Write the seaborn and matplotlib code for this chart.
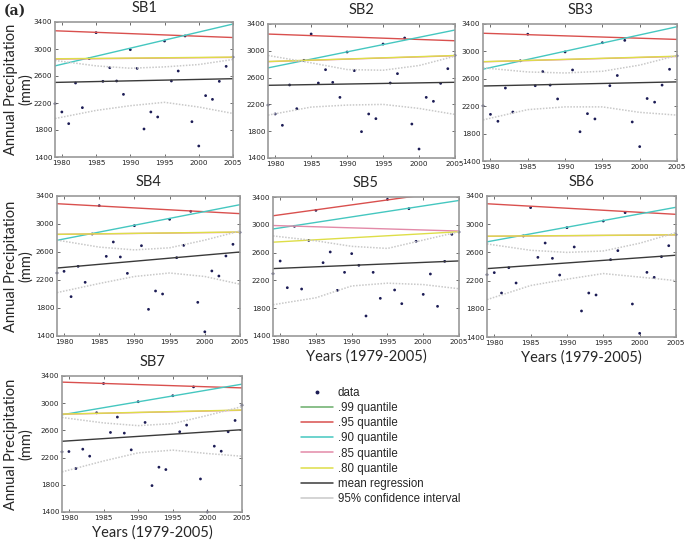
import pandas as pd
import seaborn as sns
import matplotlib.pyplot as plt
from matplotlib.lines import Line2D

YEARS = list(range(1979, 2006))
PANELS = ["SB1", "SB2", "SB3", "SB4", "SB5", "SB6", "SB7"]

SB1_PRECIP = [2190, 2067, 1894, 2496, 2131, 2857, 3242, 2521, 2723, 2526, 2328, 2990, 2713, 1815,
              2067, 1993, 3118, 2526, 2674, 3193, 1923, 1563, 2309, 2254, 2521, 2743, 2880]
SB2_PRECIP = [2190, 2057, 1888, 2490, 2136, 2858, 3251, 2519, 2718, 2529, 2305, 2982, 2704, 1793,
              2057, 1987, 3101, 2519, 2659, 3191, 1907, 1534, 2305, 2246, 2514, 2733, 2932]
SB3_PRECIP = [2206, 2081, 1980, 2465, 2115, 2863, 3251, 2499, 2705, 2508, 2306, 2992, 2729, 1827,
              2091, 2014, 3127, 2499, 2648, 3161, 1970, 1610, 2312, 2259, 2508, 2739, 2935]
SB4_PRECIP = [2300, 2324, 1962, 2395, 2167, 2857, 3262, 2538, 2743, 2529, 2295, 2976, 2690, 1781,
              2043, 2000, 3067, 2519, 2695, 3181, 1881, 1460, 2329, 2257, 2543, 2710, 2880]
SB5_PRECIP = [2297, 2479, 2095, 2978, 2076, 2776, 3208, 2455, 2609, 2057, 2316, 2585, 2417, 1688,
              2316, 1942, 3366, 2062, 1865, 3232, 2762, 1999, 2292, 1827, 2474, 2863, 2896]
SB6_PRECIP = [2284, 2313, 2024, 2383, 2166, 2833, 3235, 2530, 2733, 2516, 2279, 2951, 2677, 1769,
              2024, 1996, 3045, 2497, 2625, 3164, 1868, 1452, 2317, 2246, 2539, 2695, 2852]
SB7_PRECIP = [2285, 2289, 2039, 2324, 2221, 2859, 3290, 2570, 2796, 2560, 2314, 3022, 2717, 1788,
              2059, 2024, 3110, 2580, 2678, 3240, 1886, 1400, 2368, 2294, 2580, 2746, 2970]
PRECIP = [SB1_PRECIP, SB2_PRECIP, SB3_PRECIP, SB4_PRECIP, SB5_PRECIP, SB6_PRECIP, SB7_PRECIP]

# regression lines: value at 1979 and at 2005
LINE_YEARS = [1979, 2005]
Q99_START = [3460, 3450, 3460, 3480, 3450, 3470, 3440]
Q99_END = [3600, 3560, 3600, 3560, 3650, 3540, 3560]
Q95_START = [3270, 3250, 3265, 3290, 3130, 3290, 3310]
Q95_END = [3170, 3150, 3175, 3148, 3500, 3140, 3225]
Q90_START = [2750, 2745, 2740, 2767, 2940, 2750, 2830]
Q90_END = [3370, 3310, 3360, 3276, 3350, 3240, 3280]
Q85_START = [2850, 2838, 2848, 2852, 2990, 2828, 2838]
Q85_END = [2876, 2926, 2926, 2882, 2910, 2848, 2896]
Q80_START = [2855, 2840, 2850, 2852, 2750, 2830, 2840]
Q80_END = [2880, 2930, 2930, 2886, 2900, 2850, 2900]
MEAN_START = [2505, 2485, 2495, 2371, 2370, 2370, 2440]
MEAN_END = [2560, 2530, 2555, 2600, 2480, 2560, 2610]

CI_YEARS = [1979, 1985, 1990, 1995, 2000, 2005]
CI_UPPER = [[2830, 2750, 2715, 2735, 2770, 2845],
            [2930, 2820, 2720, 2710, 2780, 2920],
            [2760, 2700, 2685, 2710, 2800, 2940],
            [2770, 2670, 2630, 2660, 2770, 2900],
            [2840, 2770, 2690, 2660, 2780, 2900],
            [2720, 2630, 2600, 2620, 2730, 2880],
            [2790, 2710, 2670, 2700, 2820, 2950]]
CI_LOWER = [[1970, 2090, 2160, 2210, 2140, 2045],
            [2040, 2160, 2190, 2200, 2140, 2050],
            [2000, 2150, 2190, 2190, 2110, 2070],
            [2020, 2150, 2250, 2300, 2250, 2140],
            [1850, 1950, 2120, 2160, 2140, 2080],
            [1930, 2130, 2220, 2300, 2250, 2200],
            [1990, 2150, 2270, 2310, 2260, 2220]]

X_TICKS = [1980, 1985, 1990, 1995, 2000, 2005]
Y_TICKS = [1400, 1800, 2200, 2600, 3000, 3400]

COLORS = {
    "data": "#1c1c55",
    ".99 quantile": "#6aae6a",
    ".95 quantile": "#d9504e",
    ".90 quantile": "#45c7c0",
    ".85 quantile": "#e38aa8",
    ".80 quantile": "#dede48",
    "mean regression": "#3a3a3a",
    "95% confidence interval": "#c9c9c9",
}

# axes boxes in pixels: left, top, right, bottom
BOXES = [(55, 22, 233, 157), (268, 24, 455, 158), (483, 24, 677, 161),
         (57, 196, 240, 336), (273, 197, 459, 336), (487, 196, 676, 337),
         (62, 376, 242, 512)]
W, H = 685, 540
LABEL_FONT = ["Lato", "DejaVu Sans"]

sns.set_style("ticks")
plt.rcParams["font.family"] = ["DejaVu Sans"]

fig = plt.figure(figsize=(W / 100, H / 100), dpi=100)


def draw_panel(i):
    l, t, r, b = BOXES[i]
    ax = fig.add_axes([l / W, 1 - b / H, (r - l) / W, (b - t) / H])

    quant = [(".99 quantile", Q99_START, Q99_END), (".95 quantile", Q95_START, Q95_END),
             (".90 quantile", Q90_START, Q90_END), (".85 quantile", Q85_START, Q85_END),
             (".80 quantile", Q80_START, Q80_END)]
    for name, s, e in quant:
        sns.lineplot(x=LINE_YEARS, y=[s[i], e[i]], ax=ax, color=COLORS[name], lw=1.0)
    sns.lineplot(x=LINE_YEARS, y=[MEAN_START[i], MEAN_END[i]], ax=ax,
                 color=COLORS["mean regression"], lw=1.0)
    for ci in (CI_UPPER, CI_LOWER):
        sns.lineplot(x=CI_YEARS, y=ci[i], ax=ax, color=COLORS["95% confidence interval"],
                     lw=1.1, linestyle=(0, (1, 1)))
    df = pd.DataFrame({"year": YEARS, "precip": PRECIP[i]})
    sns.scatterplot(data=df, x="year", y="precip", ax=ax, color=COLORS["data"],
                    s=4, edgecolor="none", clip_on=False)

    ax.set_xlim(1979, 2005)
    ax.set_ylim(1400, 3400)
    ax.set_xticks(X_TICKS)
    ax.set_yticks(Y_TICKS)
    ax.tick_params(direction="in", length=2, width=0.6, labelsize=5.2, pad=2,
                   top=True, right=True, colors="#555555", labelcolor="#222222")
    for sp in ax.spines.values():
        sp.set_color("#999999")
        sp.set_linewidth(1.2)
    ax.set_title(PANELS[i], fontsize=10.5, pad=7, family=LABEL_FONT)
    ax.set_xlabel("")
    ax.set_ylabel("")
    if i in (0, 3, 6):
        ax.set_ylabel("Annual Precipitation\n(mm)", fontsize=10.5, linespacing=1.1,
                      family=LABEL_FONT)
        ax.yaxis.set_label_coords((33 - l) / (r - l), 0.5)
    if i in (4, 5, 6):
        ax.set_xlabel("Years (1979-2005)", fontsize=10.5, labelpad=3, family=LABEL_FONT)
    return ax


for i in range(len(PANELS)):
    draw_panel(i)

handles = [Line2D([], [], marker="o", ms=1.8, ls="none", color=COLORS["data"])]
labels = ["data"]
for name in [".99 quantile", ".95 quantile", ".90 quantile", ".85 quantile", ".80 quantile",
             "mean regression", "95% confidence interval"]:
    handles.append(Line2D([], [], color=COLORS[name], lw=1.1))
    labels.append(name)
fig.legend(handles, labels, loc="upper left", bbox_to_anchor=(296 / W, 1 - 382 / H),
           frameon=False, prop={"family": ["Liberation Sans"], "size": 8.3},
           handlelength=2.8, labelspacing=0.28, handletextpad=0.4, borderaxespad=0)

fig.text(4 / W, 1 - 11 / H, "(a)", fontsize=10, fontweight="bold", family="DejaVu Serif",
         va="center")

fig.savefig("out.png", dpi=100)
